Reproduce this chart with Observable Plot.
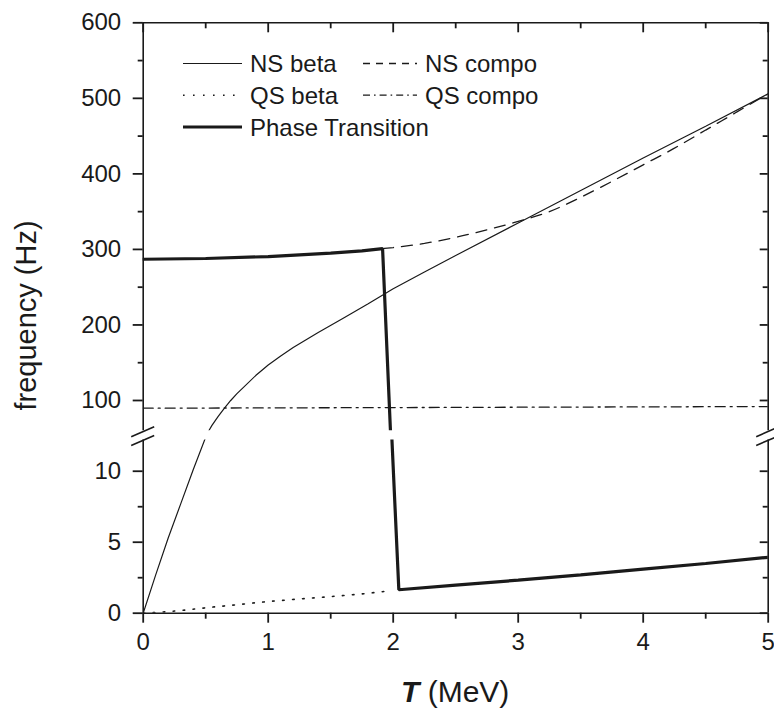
<!DOCTYPE html>
<html>
<head>
<meta charset="utf-8">
<script src="https://cdn.jsdelivr.net/npm/d3@7"></script>
<script src="https://cdn.jsdelivr.net/npm/@observablehq/plot@0.6"></script>
<style>
  html, body { margin: 0; padding: 0; background: #fff; }
  #chart { position: relative; width: 774px; height: 716px; overflow: hidden; background: #fff;
           font-family: "Liberation Sans", Arial, Helvetica, sans-serif; color: #222; }
  #chart svg { position: absolute; left: 0; }
</style>
</head>
<body>
<div id="chart"></div>
<script>
// ---------- data: temperature T (MeV) and frequency (Hz) ----------
const nsBetaT = [0, 0.1, 0.2, 0.3, 0.4, 0.5, 0.525, 0.55, 0.6, 0.65, 0.7, 0.75, 0.8, 0.9, 1.0, 1.1, 1.2, 1.3, 1.4, 1.6, 1.8, 2.0, 2.25, 2.5, 3.0, 3.5, 4.0, 4.5, 5.0];
const nsBetaF = [0, 2.7, 5.3, 7.7, 10.1, 12.4, 60, 67, 79, 90, 100, 109, 117, 133, 147, 159, 170, 180, 190, 209, 228, 248, 270, 292, 335, 378, 421, 463, 506];

const nsCompoT = [1.915, 2.0, 2.25, 2.5, 2.75, 3.0, 3.25, 3.5, 3.75, 4.0, 4.25, 4.5, 4.75, 5.0];
const nsCompoF = [301, 302.5, 308, 316, 326, 337, 350, 369, 390, 412, 434, 458, 482, 506];

const qsBetaT = [0, 0.25, 0.5, 0.75, 1.0, 1.25, 1.5, 1.75, 1.95];
const qsBetaF = [0, 0.15, 0.38, 0.6, 0.82, 1.0, 1.17, 1.36, 1.55];

const qsCompoT = [0, 1, 2, 3, 4, 5];
const qsCompoF = [89.8, 90.2, 90.6, 91.1, 91.5, 92];

const phaseT = [0, 0.5, 1.0, 1.5, 1.75, 1.915, 1.978, 1.99, 2.045, 2.5, 3.0, 3.5, 4.0, 4.5, 5.0];
const phaseF = [287, 288, 290.5, 295, 298, 301, 60, 12.2, 1.65, 1.98, 2.33, 2.7, 3.1, 3.5, 3.94];

const seriesNames = ["NS beta", "NS compo", "QS beta", "QS compo", "Phase Transition"];

const xMajorTicks = [0, 1, 2, 3, 4, 5];
const xMinorTicks = [0.5, 1.5, 2.5, 3.5, 4.5];
const yUpperDomain = [60, 600];
const yUpperMajorTicks = [100, 200, 300, 400, 500, 600];
const yUpperMinorTicks = [150, 250, 350, 450, 550];
const yLowerDomain = [0, 12.2];
const yLowerMajorTicks = [0, 5, 10];
const yLowerMinorTicks = [2.5, 7.5];

// ---------- table ----------
const toRows = (name, Ts, fs) => Ts.map((T, i) => ({series: name, T, f: fs[i]}));
const data = [
  ...toRows("NS beta", nsBetaT, nsBetaF),
  ...toRows("NS compo", nsCompoT, nsCompoF),
  ...toRows("QS beta", qsBetaT, qsBetaF),
  ...toRows("QS compo", qsCompoT, qsCompoF),
  ...toRows("Phase Transition", phaseT, phaseF)
];

// ---------- look ----------
const ink = "#1a1a1a";
const fontFamily = "'Liberation Sans', Arial, Helvetica, sans-serif";
const lineStyle = {
  "NS beta":          {strokeWidth: 1.2, curve: "linear"},
  "NS compo":         {strokeWidth: 1.3, strokeDasharray: "11,8", curve: "monotone-x"},
  "QS beta":          {strokeWidth: 1.6, strokeDasharray: "1.6,8.4", curve: "monotone-x"},
  "QS compo":         {strokeWidth: 1.3, strokeDasharray: "10,5,2,5", curve: "linear"},
  "Phase Transition": {strokeWidth: 3.2, curve: "linear"}
};
const legendStyle = {
  "NS beta":          {strokeWidth: 1.2},
  "NS compo":         {strokeWidth: 1.3, strokeDasharray: "7,6"},
  "QS beta":          {strokeWidth: 1.6, strokeDasharray: "1.6,8.4"},
  "QS compo":         {strokeWidth: 1.3, strokeDasharray: "7,4,1.6,4"},
  "Phase Transition": {strokeWidth: 3.2}
};
const axisWidth = 1.6;
const tickWidth = 1.8;

const W = 774, H = 716;
const marginLeft = 142.7, marginRight = 6.3;
const upperH = 436, upperTop = 22.3, upperBottom = 430.2;       // upper panel (60–600 Hz)
const lowerOffset = 436, lowerTop = 439.5, lowerBottom = 612.7; // lower panel (0–12.2 Hz)

// pixels per data unit, so inward tick rules get a fixed pixel length
const pxPerT = (W - marginLeft - marginRight) / 5;
const pxPerUpperF = (upperBottom - upperTop) / (yUpperDomain[1] - yUpperDomain[0]);

const plotStyle = {background: "transparent", overflow: "visible", fontSize: "24px", fontFamily, color: ink};
const intFormat = d3.format("d");
const noText = () => "";
const tickStyle = {stroke: ink, strokeWidth: tickWidth};

function curveMarks() {
  return seriesNames.map(name => Plot.line(data.filter(d => d.series === name), {
    x: "T", y: "f", stroke: ink, clip: true, strokeLinejoin: "miter",
    ...lineStyle[name]
  }));
}

// left axis: outward ticks with labels on majors; right axis: inward ticks
function yAxisMarks(major, minor) {
  return [
    Plot.axisY(major, {anchor: "left", tickSize: 10, tickPadding: 12, tickFormat: intFormat, label: null, ...tickStyle, fill: ink}),
    Plot.axisY(minor, {anchor: "left", tickSize: 5, tickFormat: noText, label: null, ...tickStyle}),
    Plot.ruleY(major, {y: d => d, x1: 5 - 8 / pxPerT, x2: 5, ...tickStyle}),
    Plot.ruleY(minor, {y: d => d, x1: 5 - 5 / pxPerT, x2: 5, ...tickStyle})
  ];
}

// upper panel: frame top, left and right; ticks along the top point inward
const upper = Plot.plot({
  width: W, height: upperH,
  marginLeft, marginRight, marginTop: upperTop, marginBottom: upperH - upperBottom,
  x: {domain: [0, 5], label: null},
  y: {domain: yUpperDomain, label: null},
  style: plotStyle,
  marks: [
    ...curveMarks(),
    Plot.ruleX([0, 5], {stroke: ink, strokeWidth: axisWidth}),
    Plot.ruleY([600], {stroke: ink, strokeWidth: axisWidth}),
    ...yAxisMarks(yUpperMajorTicks, yUpperMinorTicks),
    Plot.ruleX(xMajorTicks, {x: d => d, y1: 600, y2: 600 - 10 / pxPerUpperF, ...tickStyle}),
    Plot.ruleX(xMinorTicks, {x: d => d, y1: 600, y2: 600 - 6 / pxPerUpperF, ...tickStyle}),
    Plot.axisX([], {anchor: "top", label: null})
  ]
});

// lower panel: frame bottom, left and right; x ticks and labels below
const lowerH = H - lowerOffset;
const lower = Plot.plot({
  width: W, height: lowerH,
  marginLeft, marginRight, marginTop: lowerTop - lowerOffset, marginBottom: H - lowerBottom,
  x: {domain: [0, 5], label: null},
  y: {domain: yLowerDomain, label: null},
  style: plotStyle,
  marks: [
    ...curveMarks(),
    Plot.ruleX([0, 5], {stroke: ink, strokeWidth: axisWidth}),
    Plot.ruleY([0], {stroke: ink, strokeWidth: axisWidth}),
    ...yAxisMarks(yLowerMajorTicks, yLowerMinorTicks),
    Plot.axisX(xMajorTicks, {anchor: "bottom", tickSize: 10, tickPadding: 10, tickFormat: intFormat, label: null, ...tickStyle, fill: ink}),
    Plot.axisX(xMinorTicks, {anchor: "bottom", tickSize: 6, tickFormat: noText, label: null, ...tickStyle})
  ]
});

const chart = document.getElementById("chart");
upper.style.top = "0px";
lower.style.top = lowerOffset + "px";
chart.append(upper, lower);

// ---------- overlay: axis breaks, axis titles, legend ----------
const svg = d3.select(chart).append("svg")
  .attr("width", W).attr("height", H)
  .style("top", "0px").style("pointer-events", "none")
  .attr("font-family", fontFamily).attr("fill", ink);

const xS = upper.scale("x");
const xLeft = xS.apply(0), xRight = xS.apply(5);
const breakUpper = upper.scale("y").apply(yUpperDomain[0]);
const breakLower = lower.scale("y").apply(yLowerDomain[1]) + lowerOffset;

// axis-break slashes at both vertical axes
for (const cx of [xLeft, xRight]) {
  for (const cy of [breakUpper + 1.5, breakLower + 1]) {
    svg.append("line")
      .attr("x1", cx - 11.5).attr("y1", cy + 5)
      .attr("x2", cx + 11.5).attr("y2", cy - 5)
      .attr("stroke", ink).attr("stroke-width", axisWidth);
  }
}

// axis titles
const xTitle = svg.append("text")
  .attr("x", (xLeft + xRight) / 2).attr("y", 702)
  .attr("text-anchor", "middle").attr("font-size", 30);
xTitle.append("tspan").attr("font-weight", "bold").attr("font-style", "italic").text("T");
xTitle.append("tspan").text(" (MeV)");

svg.append("text")
  .attr("transform", `translate(35.5,${(upperTop + lowerBottom) / 2 - 2}) rotate(-90)`)
  .attr("text-anchor", "middle").attr("font-size", 29)
  .text("frequency (Hz)");

// legend: two columns, three rows
const legendRows = [63.5, 95.2, 127];
const legendCols = [{x0: 183, x1: 242, tx: 250}, {x0: 363, x1: 417, tx: 425}];
const legendSlots = [[0, 0], [0, 1], [1, 0], [1, 1], [2, 0]];
seriesNames.forEach((name, i) => {
  const [r, c] = legendSlots[i];
  const col = legendCols[c], y = legendRows[r], st = legendStyle[name];
  svg.append("line")
    .attr("x1", col.x0).attr("x2", col.x1).attr("y1", y).attr("y2", y)
    .attr("stroke", ink).attr("stroke-width", st.strokeWidth)
    .attr("stroke-dasharray", st.strokeDasharray || null);
  svg.append("text")
    .attr("x", col.tx).attr("y", y).attr("dy", "0.36em")
    .attr("font-size", 24).text(name);
});
</script>
</body>
</html>
